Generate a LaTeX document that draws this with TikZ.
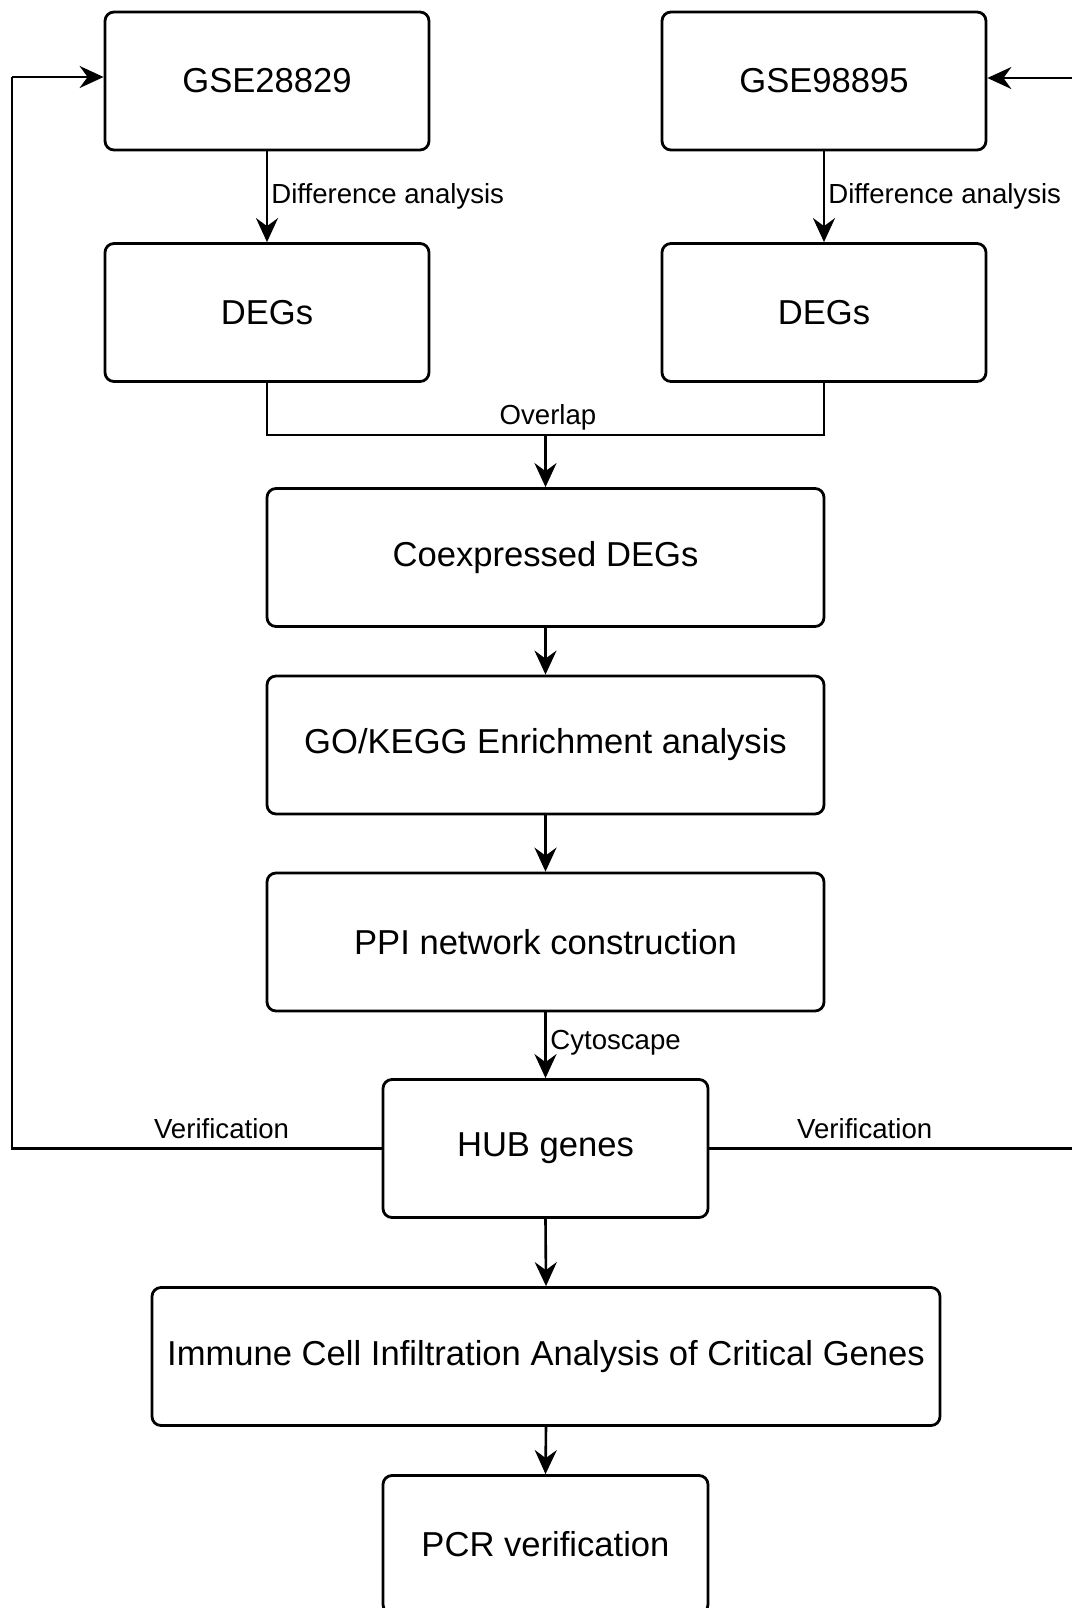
\documentclass[tikz,border=0pt]{standalone}
\usepackage{fontspec}
\setmainfont{Liberation Sans}
\usetikzlibrary{arrows.meta,calc}

\begin{document}
\begin{tikzpicture}[
  x=0.5pt, y=-0.5pt,
  box/.style={draw, line width=1.4pt, rounded corners=4.5pt, inner sep=0pt,
              minimum height=69pt, align=center,
              font=\fontsize{17.3}{20}\selectfont},
  lbl/.style={inner sep=0pt, font=\fontsize{13.8}{16}\selectfont},
  link/.style={line width=1.3pt},
  flow/.style={line width=1.3pt, -{Stealth[length=12pt, width=11pt, inset=4pt]}}
]
\useasboundingbox (0,0) rectangle (1072,1608);
\fill[white] (0,0) rectangle (1072,1608);
\clip (0,0) rectangle (1072,1608);

% datasets
\node[box, minimum width=162pt] (g1) at (267,81) {GSE28829};
\node[box, minimum width=162pt] (g2) at (824,81) {GSE98895};

% differential expression results
\node[box, minimum width=162pt] (d1) at (267,312.5) {DEGs};
\node[box, minimum width=162pt] (d2) at (824,312.5) {DEGs};

% main pipeline
\node[box, minimum width=278.5pt] (coex) at (545.5,557.5) {Coexpressed DEGs};
\node[box, minimum width=278.5pt] (go)   at (545.5,745)   {GO/KEGG Enrichment analysis};
\node[box, minimum width=278.5pt] (ppi)  at (545.5,942)   {PPI network construction};
\node[box, minimum width=162.5pt] (hub)  at (545.5,1148.5) {HUB genes};
\node[box, minimum width=394pt]   (imm)  at (546,1356.5)  {Immune Cell Infiltration Analysis of Critical Genes};
\node[box, minimum width=162.5pt] (pcr)  at (545.5,1544.5) {PCR verification};

% difference analysis
\draw[flow] (g1.south) -- (d1.north);
\draw[flow] (g2.south) -- (d2.north);
\node[lbl, anchor=west] (da1) at (271,196) {Difference analysis};
\node[lbl, anchor=west] (da2) at (828,196) {Difference analysis};

% overlap of both DEG sets
\coordinate (ovl) at (545.5,435);
\draw[link] (d1.south) |- (ovl) -| (d2.south);
\draw[flow] (ovl) -- (coex.north);
\node[lbl] (ovlab) at (548,417.5) {Overlap};

% pipeline arrows
\draw[flow] (coex.south) -- (go.north);
\draw[flow] (go.south) -- (ppi.north);
\draw[flow] (ppi.south) -- (hub.north);
\node[lbl, anchor=west] (cyto) at (550,1043) {Cytoscape};
\draw[flow] (hub.south) -- (imm.north);
\draw[flow] (imm.south) -- (pcr.north);

% verification loops back to the datasets
\coordinate (lb) at (12,1148.5);
\coordinate (lt) at (12,77);
\draw[link] (hub.west) -- (lb) -- (lt);
\draw[flow] (lt) -- ([yshift=2pt]g1.west);
\node[lbl] (ver1) at (221.6,1128.4) {Verification};

\coordinate (rb) at (1100,1148.5);
\coordinate (rt) at (1100,78);
\draw[link] (hub.east) -- (rb) -- (rt);
\draw[flow] (rt) -- ([yshift=1.5pt]g2.east);
\node[lbl] (ver2) at (864.7,1128.4) {Verification};
\end{tikzpicture}
\end{document}
